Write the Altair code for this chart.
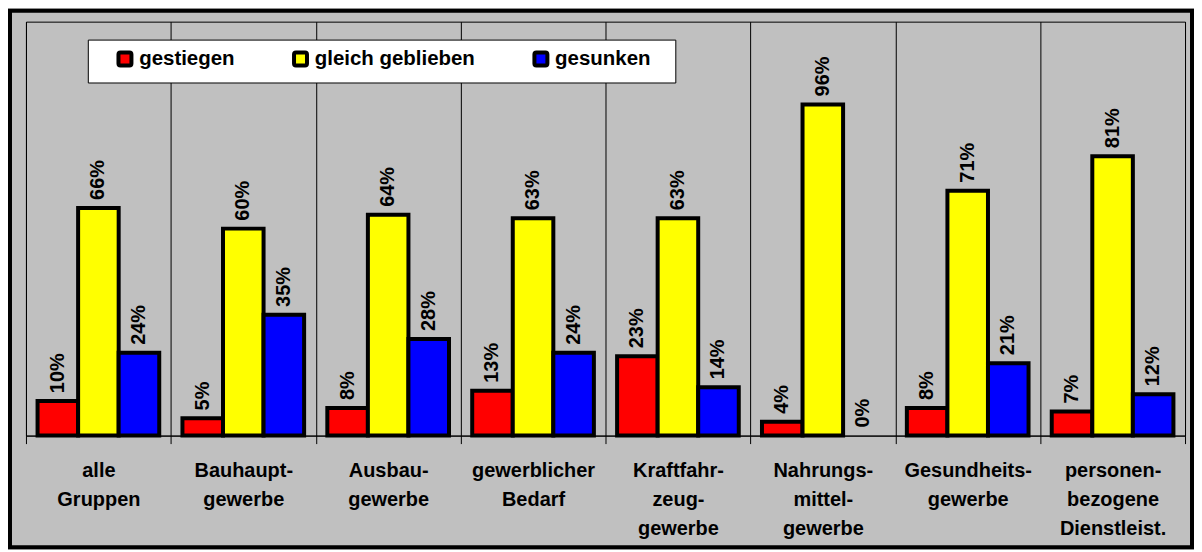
import altair as alt
import pandas as pd

# ---- data ----
categories = [
    "alle|Gruppen",
    "Bauhaupt-|gewerbe",
    "Ausbau-|gewerbe",
    "gewerblicher|Bedarf",
    "Kraftfahr-|zeug-|gewerbe",
    "Nahrungs-|mittel-|gewerbe",
    "Gesundheits-|gewerbe",
    "personen-|bezogene|Dienstleist.",
]
series = ["gestiegen", "gleich geblieben", "gesunken"]
gestiegen = [10, 5, 8, 13, 23, 4, 8, 7]
gleich_geblieben = [66, 60, 64, 63, 63, 96, 71, 81]
gesunken = [24, 35, 28, 24, 14, 0, 21, 12]
colors = ["#FF0000", "#FFFF00", "#0000FF"]

rows = []
for i, c in enumerate(categories):
    for s, vals in zip(series, [gestiegen, gleich_geblieben, gesunken]):
        rows.append({"Gruppe": c, "Entwicklung": s, "Anteil": vals[i], "Label": f"{vals[i]}%"})
df = pd.DataFrame(rows)

FONT = "Liberation Sans"
W, H = 1162, 415
GREY = "#C0C0C0"
NBSP = "\u00a0"
BLANK = "\u2800"
ROUNDED_SQUARE = (
    "M -1 -0.7 Q -1 -1 -0.7 -1 L 0.7 -1 Q 1 -1 1 -0.7 L 1 0.7 "
    "Q 1 1 0.7 1 L -0.7 1 Q -1 1 -1 0.7 Z"
)

x_enc = alt.X(
    "Gruppe:N",
    sort=categories,
    scale=alt.Scale(paddingInner=0, paddingOuter=0),
    axis=alt.Axis(
        title=None,
        labelExpr="split(datum.label, '|')",
        labelAngle=0,
        labelFont=FONT,
        labelFontSize=20,
        labelFontWeight="bold",
        labelColor="black",
        labelLineHeight=29,
        labelPadding=17,
        labelLimit=400,
        tickBand="extent",
        tickSize=8,
        tickColor="black",
        tickWidth=1,
        domainColor="black",
        domainWidth=1,
        grid=True,
        gridColor="black",
        gridWidth=1,
        gridOpacity=1,
    ),
)
xoff_enc = alt.XOffset(
    "Entwicklung:N", sort=series, scale=alt.Scale(paddingInner=0, paddingOuter=0.286)
)
y_enc = alt.Y("Anteil:Q", scale=alt.Scale(domain=[0, 120], nice=False, zero=True), axis=None)

base = alt.Chart(df)

bars = base.transform_filter("datum.Anteil > 0").mark_bar(
    stroke="black", strokeWidth=4, strokeJoin="miter", opacity=1
).encode(
    x=x_enc,
    xOffset=xoff_enc,
    y=y_enc,
    color=alt.Color(
        "Entwicklung:N",
        sort=series,
        scale=alt.Scale(domain=series, range=colors),
        legend=alt.Legend(
            title=NBSP,
            titleOrient="left",
            titleFont=FONT,
            titleFontSize=20,
            titlePadding=18,
            orient="none",
            legendX=62,
            legendY=18,
            direction="horizontal",
            fillColor="white",
            strokeColor="black",
            padding=9,
            cornerRadius=0,
            labelFont=FONT,
            labelFontSize=20.5,
            labelFontWeight="bold",
            labelColor="black",
            labelOffset=4,
            labelLimit=400,
            labelExpr=f"datum.label == 'gesunken' ? datum.label + '{BLANK}' : datum.label",
            symbolType=ROUNDED_SQUARE,
            symbolSize=169,
            symbolStrokeColor="black",
            symbolStrokeWidth=4,
            symbolOpacity=1,
            columnPadding=50,
        ),
    ),
)

labels = base.mark_text(
    angle=270,
    align="left",
    baseline="middle",
    dx=8,
    font=FONT,
    fontSize=20,
    fontWeight="bold",
    color="black",
).encode(x=x_enc, xOffset=xoff_enc, y=y_enc, text="Label:N")

frame = alt.Chart(alt.Data(values=[{"f": 1}])).mark_rect(
    fillOpacity=0, stroke="black", strokeWidth=4
).encode(
    x=alt.value(-16), x2=alt.value(W + 7), y=alt.value(-11), y2=alt.value(527)
)

chart = (
    alt.layer(frame, bars, labels)
    .properties(width=W, height=H, background=GREY, padding=0)
    .configure_view(stroke="black", strokeWidth=1, fill=GREY)
)

chart.save("out.html", embed_options={"renderer": "svg", "actions": False})
